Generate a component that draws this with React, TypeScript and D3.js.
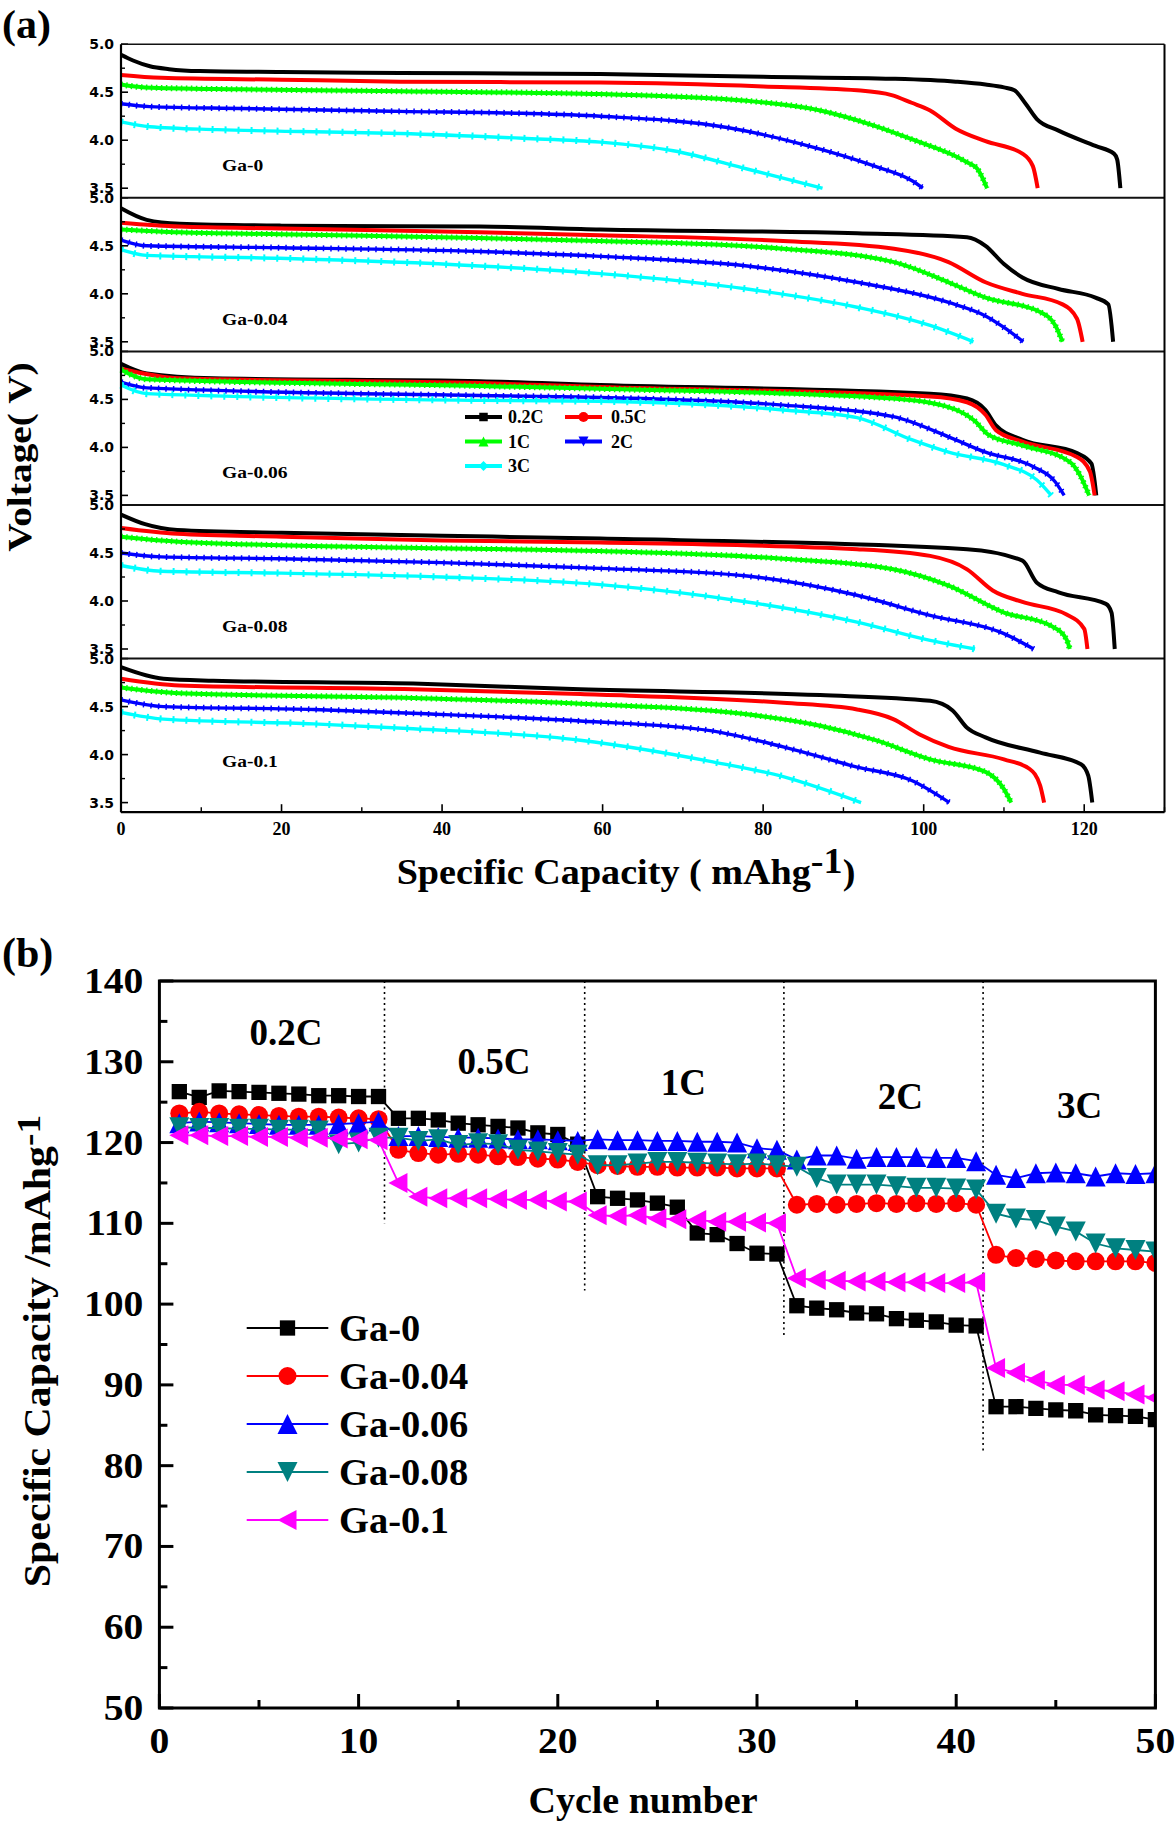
import React from 'react';
import * as d3 from 'd3';

type Pt = [number, number];

// ---------------- Panel (a): discharge curves [capacity (mAh/g), voltage (V)] ----------------
const ga0_02C: Pt[] = [[0,4.89],[1.5,4.83],[3.6,4.77],[6,4.74],[9.8,4.72],[20,4.71],[34.8,4.70],[59.7,4.69],[80,4.66],[96.2,4.64],[104,4.61],[107.7,4.58],[110,4.55],[111.3,4.52],[112.7,4.38],[114.1,4.22],[116.8,4.10],[121.4,3.94],[123.7,3.86],[124.1,3.80],[124.5,3.50]];
const ga0_05C: Pt[] = [[0,4.68],[5,4.65],[20,4.63],[34.8,4.61],[59.7,4.60],[80,4.56],[91.7,4.52],[96,4.47],[98.5,4.39],[100.8,4.31],[104,4.12],[107.7,3.99],[112.3,3.86],[113.6,3.73],[114.2,3.50]];
const ga0_1C: Pt[] = [[0,4.58],[3,4.55],[15,4.53],[34.8,4.51],[59.7,4.48],[78,4.41],[87.1,4.31],[93.9,4.15],[98.5,4.01],[105.4,3.77],[106.7,3.70],[107.9,3.50]];
const ga0_2C: Pt[] = [[0,4.38],[3.6,4.35],[15,4.33],[34.8,4.30],[50,4.28],[59.7,4.25],[75.7,4.13],[84.8,3.96],[93.9,3.73],[98.5,3.58],[99.9,3.50]];
const ga0_3C: Pt[] = [[0,4.19],[3.6,4.14],[12,4.11],[22.3,4.09],[34.8,4.07],[50,4.02],[59.7,3.98],[68.8,3.89],[78,3.70],[87.4,3.50]];

const ga004_02C: Pt[] = [[0,4.89],[3.2,4.77],[7.3,4.73],[20,4.71],[44.7,4.70],[59.7,4.67],[91.7,4.63],[105.4,4.59],[107.7,4.50],[110,4.31],[112.3,4.17],[116.8,4.05],[121.4,3.96],[123,3.89],[123.6,3.50]];
const ga004_05C: Pt[] = [[0,4.74],[7.3,4.70],[20,4.68],[44.7,4.64],[59.7,4.61],[82.5,4.55],[96.3,4.47],[103.1,4.33],[107.7,4.12],[112.3,4.00],[117.3,3.89],[119.1,3.74],[119.8,3.50]];
const ga004_1C: Pt[] = [[0,4.67],[7.3,4.64],[20,4.62],[44.7,4.58],[59.7,4.55],[82.5,4.47],[96.3,4.33],[103.1,4.12],[107.7,3.96],[114.5,3.81],[116.4,3.67],[117.3,3.50]];
const ga004_2C: Pt[] = [[0,4.56],[3.2,4.50],[20,4.48],[44.7,4.44],[59.7,4.39],[78,4.29],[91.7,4.12],[103.1,3.91],[107.7,3.77],[110,3.65],[112.4,3.50]];
const ga004_3C: Pt[] = [[0,4.46],[3.2,4.40],[19.8,4.37],[44.7,4.29],[59.7,4.21],[78,4.05],[91.7,3.86],[100.8,3.67],[106.2,3.50]];

const ga006_02C: Pt[] = [[0,4.87],[3.2,4.77],[11.5,4.72],[44.7,4.69],[59.7,4.65],[100.8,4.56],[105.4,4.51],[107.7,4.39],[109,4.23],[112.3,4.08],[119.1,3.94],[120.9,3.83],[121.5,3.50]];
const ga006_05C: Pt[] = [[0,4.82],[7.3,4.72],[44.7,4.67],[59.7,4.63],[100.8,4.53],[105.4,4.47],[107.7,4.34],[109,4.18],[112.3,4.06],[119.1,3.90],[120.7,3.75],[121.3,3.50]];
const ga006_1C: Pt[] = [[0,4.81],[3.2,4.71],[44.7,4.64],[59.7,4.61],[96.2,4.51],[103.1,4.42],[106.3,4.28],[108.1,4.13],[112.3,4.02],[118.2,3.85],[119.6,3.69],[120.6,3.50]];
const ga006_2C: Pt[] = [[0,4.68],[3.2,4.62],[44.7,4.54],[59.7,4.52],[82.5,4.44],[96.2,4.32],[103.1,4.11],[107.7,3.95],[113.6,3.80],[116.4,3.64],[117.5,3.50]];
const ga006_3C: Pt[] = [[0,4.65],[3.2,4.56],[44.7,4.49],[59.7,4.48],[82.5,4.39],[91.7,4.31],[98.5,4.08],[103.1,3.95],[110,3.82],[114.1,3.66],[115.9,3.50]];

const ga008_02C: Pt[] = [[0,4.90],[3,4.80],[7,4.74],[20,4.71],[40,4.68],[59.7,4.65],[105.4,4.54],[112.3,4.42],[114.1,4.19],[116.8,4.09],[122.7,3.97],[123.4,3.88],[123.8,3.50]];
const ga008_05C: Pt[] = [[0,4.76],[7,4.70],[20,4.67],[40,4.63],[59.7,4.61],[91.7,4.54],[100.8,4.47],[105.4,4.33],[108.6,4.11],[112.3,3.99],[117.8,3.86],[120,3.71],[120.4,3.50]];
const ga008_1C: Pt[] = [[0,4.67],[5,4.63],[20,4.58],[40,4.55],[59.7,4.52],[82.5,4.44],[96.2,4.33],[103.1,4.16],[110,3.88],[115.9,3.74],[117.8,3.60],[118.2,3.50]];
const ga008_2C: Pt[] = [[0,4.50],[5,4.46],[20,4.44],[40,4.40],[59.7,4.34],[78,4.26],[91.7,4.06],[100.8,3.85],[110,3.66],[113.7,3.50]];
const ga008_3C: Pt[] = [[0,4.37],[5,4.31],[20,4.29],[40,4.25],[59.7,4.17],[78,3.99],[91.7,3.78],[100.8,3.59],[106.4,3.50]];

const ga01_02C: Pt[] = [[0,4.91],[5.3,4.79],[11.5,4.77],[36.4,4.74],[57.2,4.68],[87.1,4.62],[100.8,4.56],[103.6,4.46],[105.4,4.28],[107.7,4.18],[114.5,4.02],[119.6,3.90],[120.5,3.78],[121,3.50]];
const ga01_05C: Pt[] = [[0,4.79],[7.3,4.72],[36.4,4.68],[57.2,4.63],[82.5,4.54],[91.7,4.47],[96.2,4.37],[99.5,4.21],[103.1,4.08],[110,3.95],[113.2,3.85],[114.5,3.68],[115,3.50]];
const ga01_1C: Pt[] = [[0,4.70],[7.3,4.64],[36.4,4.59],[57.2,4.53],[78,4.42],[87.1,4.30],[94,4.15],[100.8,3.95],[107.7,3.82],[110,3.64],[110.9,3.50]];
const ga01_2C: Pt[] = [[0,4.57],[5.3,4.50],[24,4.47],[36.4,4.43],[57.2,4.35],[73.4,4.25],[82.5,4.08],[91.7,3.87],[98.5,3.73],[103.2,3.50]];
const ga01_3C: Pt[] = [[0,4.44],[5.3,4.37],[24,4.32],[36.4,4.27],[57.2,4.15],[73.4,3.93],[82.5,3.77],[92.2,3.50]];

const A_SAMPLES = ['Ga-0', 'Ga-0.04', 'Ga-0.06', 'Ga-0.08', 'Ga-0.1'];
const A_CURVES: Pt[][][] = [
  [ga0_02C, ga0_05C, ga0_1C, ga0_2C, ga0_3C],
  [ga004_02C, ga004_05C, ga004_1C, ga004_2C, ga004_3C],
  [ga006_02C, ga006_05C, ga006_1C, ga006_2C, ga006_3C],
  [ga008_02C, ga008_05C, ga008_1C, ga008_2C, ga008_3C],
  [ga01_02C, ga01_05C, ga01_1C, ga01_2C, ga01_3C],
];
const A_RATES = ['0.2C', '0.5C', '1C', '2C', '3C'];
const A_COLORS = ['#000000', '#ff0000', '#00ff00', '#0000ff', '#00ffff'];
const A_SHAPES = ['square', 'circle', 'triUp', 'triDown', 'diamond'];
const A_X_TICKS = [0, 20, 40, 60, 80, 100, 120];
const A_X_MINOR = [10, 30, 50, 70, 90, 110, 130];
const A_Y_TICKS = [3.5, 4.0, 4.5, 5.0];
const A_Y_MINOR = [3.75, 4.25, 4.75];

// ---------------- Panel (b): rate capability ----------------
const CYCLES = [1,2,3,4,5,6,7,8,9,10,11,12,13,14,15,16,17,18,19,20,21,22,23,24,25,26,27,28,29,30,31,32,33,34,35,36,37,38,39,40,41,42,43,44,45,46,47,48,49,50];
const capGa0 = [126.3,125.6,126.4,126.3,126.2,126.1,126.0,125.8,125.8,125.7,125.7, 123.0,123.0,122.8,122.4,122.2,122.0,121.8,121.2,121.0,119.8, 113.3,113.1,112.9,112.5,112.0,108.8,108.6,107.5,106.3,106.2, 99.8,99.5,99.3,98.9,98.8,98.2,98.0,97.8,97.4,97.3, 87.3,87.3,87.1,86.9,86.8,86.3,86.2,86.1,85.7];
const capGa004 = [123.6,123.8,123.6,123.5,123.4,123.3,123.2,123.2,123.1,123.0,122.9, 119.1,118.7,118.5,118.6,118.5,118.3,118.2,118.0,117.9,117.6, 117.2,117.1,117.0,117.0,116.9,116.9,116.9,116.8,116.8,116.8, 112.3,112.4,112.3,112.4,112.5,112.4,112.5,112.4,112.5,112.3, 106.1,105.7,105.6,105.4,105.3,105.3,105.3,105.3,105.1];
const capGa006 = [122.4,122.6,122.5,122.4,122.3,122.2,122.2,122.2,122.3,122.4,122.6, 120.8,120.8,120.7,120.6,120.6,120.5,120.4,120.4,120.3,120.2, 120.4,120.3,120.3,120.2,120.2,120.1,120.1,120.0,119.3,119.1, 117.9,118.4,118.4,118.0,118.2,118.2,118.2,118.1,118.1,117.7, 116.0,115.6,116.2,116.3,116.2,115.8,116.2,116.1,116.2];
const capGa008 = [121.9,121.8,121.8,121.7,121.7,121.6,121.6,121.5,119.8,120.0,120.6, 120.6,120.2,120.4,119.7,119.9,119.8,119.1,118.9,118.7,118.5, 117.2,117.2,117.4,117.6,117.6,117.5,117.4,117.3,117.4,117.2, 117.0,115.6,114.8,114.8,114.8,114.6,114.4,114.4,114.3,114.2, 111.2,110.6,110.4,109.6,109.0,107.5,106.9,106.7,106.5];
const capGa01 = [120.9,120.9,120.8,120.8,120.7,120.7,120.6,120.6,120.5,120.4,120.3, 115.0,113.3,113.1,113.1,113.1,113.0,112.9,112.9,112.7,112.7, 111.0,110.9,111.0,110.6,110.5,110.4,110.2,110.2,110.1,110.0, 103.2,103.0,102.9,102.8,102.8,102.7,102.7,102.6,102.6,102.7, 92.1,91.5,90.6,90.0,90.0,89.4,89.2,88.8,88.4];

const B_NAMES = ['Ga-0', 'Ga-0.04', 'Ga-0.06', 'Ga-0.08', 'Ga-0.1'];
const B_VALUES = [capGa0, capGa004, capGa006, capGa008, capGa01];
const B_COLORS = ['#000000', '#ff0000', '#0000ff', '#008080', '#ff00ff'];
const B_SHAPES = ['square', 'circle', 'triUp', 'triDown', 'triLeft'];
const B_X_TICKS = [0, 10, 20, 30, 40, 50];
const B_X_MINOR = [5, 15, 25, 35, 45];
const B_Y_TICKS = [50, 60, 70, 80, 90, 100, 110, 120, 130, 140];
const B_Y_MINOR = [55, 65, 75, 85, 95, 105, 115, 125, 135];
const B_RATE_LABELS = ['0.2C', '0.5C', '1C', '2C', '3C'];
const B_RATE_LABEL_X = [6.36, 16.8, 26.3, 37.2, 46.2];
const B_RATE_LABEL_Y = [132.1, 128.5, 125.9, 124.2, 123.0];
const B_DIVIDER_X = [11.3, 21.35, 31.35, 41.35];
const B_DIVIDER_END = [110, 101.7, 95.8, 81.6];

// ---------------- Layout ----------------
const W = 1175, H = 1824;
const A_LEFT = 121, A_RIGHT = 1164.5, A_TOP = 44.2, A_SUB_H = 153.6;
const xA = d3.scaleLinear().domain([0, 130]).range([A_LEFT, A_RIGHT]);
const yAk = (k: number) => d3.scaleLinear().domain([3.4, 5.0]).range([A_TOP + (k + 1) * A_SUB_H, A_TOP + k * A_SUB_H]);
const A_BOTTOM = A_TOP + 5 * A_SUB_H;

const xB = d3.scaleLinear().domain([0, 50]).range([159.4, 1155.4]);
const yB = d3.scaleLinear().domain([50, 140]).range([1708, 981]);

const SERIF = '"Liberation Serif","Times New Roman",serif';
const SANS = '"DejaVu Sans","Liberation Sans",sans-serif';

function markerPath(shape: string, cx: number, cy: number, s: number): string {
  const h = s / 2;
  switch (shape) {
    case 'square': return `M${cx - h * 0.85},${cy - h * 0.85}h${s * 0.85}v${s * 0.85}h${-s * 0.85}Z`;
    case 'circle': return `M${cx - h},${cy}a${h},${h} 0 1,0 ${s},0a${h},${h} 0 1,0 ${-s},0Z`;
    case 'triUp': return `M${cx},${cy - h}L${cx + h},${cy + h}L${cx - h},${cy + h}Z`;
    case 'triDown': return `M${cx},${cy + h}L${cx + h},${cy - h}L${cx - h},${cy - h}Z`;
    case 'triLeft': return `M${cx - h},${cy}L${cx + h * 0.9},${cy - h}L${cx + h * 0.9},${cy + h}Z`;
    case 'diamond': return `M${cx},${cy - h}L${cx + h},${cy}L${cx},${cy + h}L${cx - h},${cy}Z`;
  }
  return '';
}

function T(p: { x: number; y: number; size: number; anchor?: string; sx?: number; rot?: number; family?: string; children: any; fill?: string }) {
  const { x, y, size, anchor = 'start', sx = 1, rot = 0, family = SERIF, children, fill = '#000' } = p;
  return (
    <text transform={`translate(${x},${y}) rotate(${rot}) scale(${sx},1)`} fontSize={size} fontFamily={family}
      fontWeight="bold" textAnchor={anchor as any} fill={fill}>{children}</text>
  );
}

function PanelA() {
  return (
    <g>
      <T x={2} y={38} size={40} sx={1.05}>(a)</T>
      {A_CURVES.map((sample, k) => {
        const y = yAk(k);
        const l = d3.line<Pt>().x(d => xA(d[0])).y(d => y(d[1])).curve(d3.curveMonotoneX);
        const top = A_TOP + k * A_SUB_H;
        return (
          <g key={k}>
            {sample.map((pts, r) => (
              <g key={r}>
                <path d={l(pts) || ''} fill="none" stroke={A_COLORS[r]} strokeWidth={r >= 3 ? 3.4 : 4} strokeLinejoin="round" />
                {r >= 2 && (
                  <path d={l(pts) || ''} fill="none" stroke={A_COLORS[r]} strokeWidth={r === 4 ? 7 : 6}
                    strokeDasharray={r === 4 ? '2 11' : r === 3 ? '1.5 6' : '1.5 3.5'} />
                )}
              </g>
            ))}
            <T x={222} y={top + (k === 4 ? 108 : 127)} size={16} sx={1.22}>{A_SAMPLES[k]}</T>
            {A_Y_TICKS.map(t => (
              <g key={t}>
                <line x1={A_LEFT} x2={A_LEFT + 7} y1={y(t)} y2={y(t)} stroke="#000" strokeWidth={1.6} />
                <T x={A_LEFT - 7} y={y(t) + 5} size={14} anchor="end" family={SANS}>{t.toFixed(1)}</T>
              </g>
            ))}
            {A_Y_MINOR.map(t => (
              <line key={t} x1={A_LEFT} x2={A_LEFT + 4} y1={y(t)} y2={y(t)} stroke="#000" strokeWidth={1.4} />
            ))}
            <line x1={A_LEFT} x2={A_RIGHT} y1={top} y2={top} stroke="#111" strokeWidth={k === 0 ? 1.6 : 2} />
          </g>
        );
      })}
      <line x1={A_LEFT} x2={A_LEFT} y1={A_TOP} y2={A_BOTTOM} stroke="#000" strokeWidth={2.2} />
      <line x1={A_RIGHT} x2={A_RIGHT} y1={A_TOP} y2={A_BOTTOM} stroke="#000" strokeWidth={2} />
      <line x1={A_LEFT} x2={A_RIGHT} y1={A_BOTTOM} y2={A_BOTTOM} stroke="#000" strokeWidth={2.2} />
      {A_X_TICKS.map(t => (
        <g key={t}>
          <line x1={xA(t)} x2={xA(t)} y1={A_BOTTOM} y2={A_BOTTOM - 8} stroke="#000" strokeWidth={1.6} />
          <T x={xA(t)} y={A_BOTTOM + 23} size={18} anchor="middle">{String(t)}</T>
        </g>
      ))}
      {A_X_MINOR.map(t => (
        <line key={t} x1={xA(t)} x2={xA(t)} y1={A_BOTTOM} y2={A_BOTTOM - 5} stroke="#000" strokeWidth={1.4} />
      ))}
      {A_RATES.map((r, i) => {
        const col = i % 2, row = Math.floor(i / 2);
        const lx = col === 0 ? 465 : 565;
        const ly = 417 + row * 24.5;
        const tx = col === 0 ? 508 : 611;
        return (
          <g key={r}>
            <line x1={lx} x2={lx + 37} y1={ly} y2={ly} stroke={A_COLORS[i]} strokeWidth={4} />
            <path d={markerPath(A_SHAPES[i], lx + 18.5, ly, 10)} fill={A_COLORS[i]} />
            <T x={tx} y={ly + 6} size={18}>{r}</T>
          </g>
        );
      })}
      <g transform={`translate(626,884) scale(1.06,1)`}>
        <text fontFamily={SERIF} fontWeight="bold" fontSize={36} textAnchor="middle" fill="#000">
          Specific Capacity (  mAhg<tspan dy={-11}>-1</tspan><tspan dy={11}>)</tspan>
        </text>
      </g>
      <T x={31} y={457} size={34} rot={-90} sx={1.16} anchor="middle">Voltage( V)</T>
    </g>
  );
}

function PanelB() {
  const clipId = 'clipB';
  return (
    <g>
      <defs>
        <clipPath id={clipId}>
          <rect x={xB(0)} y={yB(140)} width={xB(50) - xB(0)} height={yB(50) - yB(140)} />
        </clipPath>
      </defs>
      <T x={2} y={967} size={42}>(b)</T>
      {B_DIVIDER_X.map((d, i) => (
        <line key={i} x1={xB(d)} x2={xB(d)} y1={yB(140)} y2={yB(B_DIVIDER_END[i])} stroke="#000" strokeWidth={1.6} strokeDasharray="2 3.5" />
      ))}
      {B_RATE_LABELS.map((l, i) => (
        <T key={l} x={xB(B_RATE_LABEL_X[i])} y={yB(B_RATE_LABEL_Y[i])} size={37} anchor="middle">{l}</T>
      ))}
      <g clipPath={`url(#${clipId})`}>
        {B_VALUES.map((vals, s) => {
          const pts: Pt[] = vals.map((v, i) => [CYCLES[i], v]);
          const l = d3.line<Pt>().x(d => xB(d[0])).y(d => yB(d[1]));
          return (
            <g key={s}>
              <path d={l(pts) || ''} fill="none" stroke={B_COLORS[s]} strokeWidth={1.8} />
              {pts.map((p, i) => (
                <path key={i} d={markerPath(B_SHAPES[s], xB(p[0]), yB(p[1]), s < 2 ? 18 : 20)} fill={B_COLORS[s]} />
              ))}
            </g>
          );
        })}
      </g>
      <rect x={xB(0)} y={yB(140)} width={xB(50) - xB(0)} height={yB(50) - yB(140)} fill="none" stroke="#000" strokeWidth={3} />
      {B_Y_TICKS.map(t => (
        <g key={t}>
          <line x1={xB(0)} x2={xB(0) + 14} y1={yB(t)} y2={yB(t)} stroke="#000" strokeWidth={3} />
          <T x={xB(0) - 16} y={yB(t) + 12} size={36} anchor="end" sx={1.1}>{String(t)}</T>
        </g>
      ))}
      {B_Y_MINOR.map(t => (
        <line key={t} x1={xB(0)} x2={xB(0) + 8} y1={yB(t)} y2={yB(t)} stroke="#000" strokeWidth={3} />
      ))}
      {B_X_TICKS.map(t => (
        <g key={t}>
          <line x1={xB(t)} x2={xB(t)} y1={yB(50)} y2={yB(50) - 14} stroke="#000" strokeWidth={3} />
          <T x={xB(t)} y={1753} size={36} anchor="middle" sx={1.1}>{String(t)}</T>
        </g>
      ))}
      {B_X_MINOR.map(t => (
        <line key={t} x1={xB(t)} x2={xB(t)} y1={yB(50)} y2={yB(50) - 8} stroke="#000" strokeWidth={3} />
      ))}
      {B_NAMES.map((n, i) => {
        const ly = 1328 + i * 48;
        return (
          <g key={n}>
            <line x1={246.7} x2={328.3} y1={ly} y2={ly} stroke={B_COLORS[i]} strokeWidth={2} />
            <path d={markerPath(B_SHAPES[i], 287.5, ly, i < 2 ? 18 : 20)} fill={B_COLORS[i]} />
            <T x={339} y={ly + 13} size={37} sx={1.04}>{n}</T>
          </g>
        );
      })}
      <T x={643} y={1813} size={38} anchor="middle">Cycle number</T>
      <g transform={`translate(50,1351) rotate(-90) scale(1.1,1)`}>
        <text fontFamily={SERIF} fontWeight="bold" fontSize={38} textAnchor="middle" fill="#000">
          Specific Capacity /mAhg<tspan dy={-10} fontSize={34}>-1</tspan>
        </text>
      </g>
    </g>
  );
}

export default function App() {
  return (
    <svg width={W} height={H} viewBox={`0 0 ${W} ${H}`} style={{ position: 'absolute', left: 0, top: 0, background: '#fff' }}>
      <rect x={0} y={0} width={W} height={H} fill="#fff" />
      <PanelA />
      <PanelB />
    </svg>
  );
}
